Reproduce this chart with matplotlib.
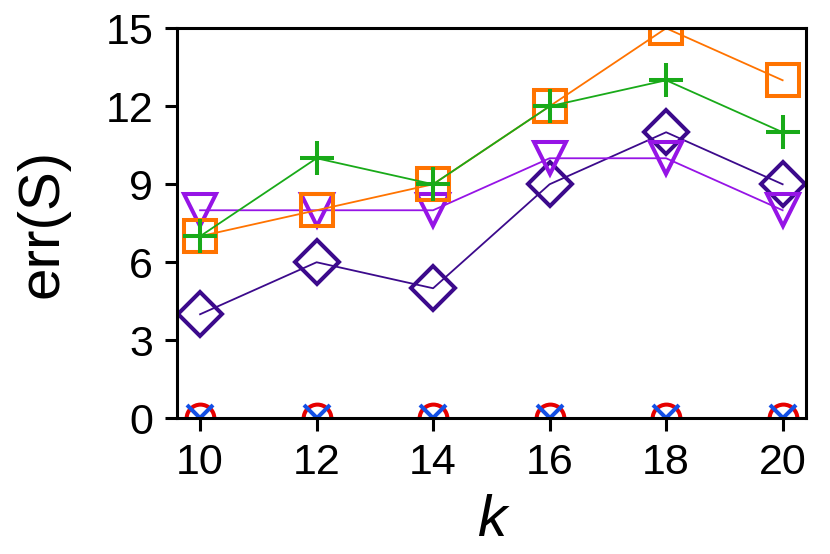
import matplotlib
matplotlib.use("Agg")
import matplotlib.pyplot as plt

plt.rcParams['font.family'] = ['Liberation Sans', 'DejaVu Sans']

k = [10, 12, 14, 16, 18, 20]
err_zero_a = [0, 0, 0, 0, 0, 0]
err_zero_b = [0, 0, 0, 0, 0, 0]
err_diamond = [4, 6, 5, 9, 11, 9]
err_tri = [8, 8, 8, 10, 10, 8]
err_square = [7, 8, 9, 12, 15, 13]
err_plus = [7, 10, 9, 12, 13, 11]

fig = plt.figure(figsize=(8.3, 5.54), dpi=100)
ax = fig.add_axes([0.213, 0.245, 0.758, 0.704])

mew = 2.9
lw = 1.3
ax.plot(k, err_zero_a, color='#e60000', lw=lw, marker='o', ms=20, mfc='none', mew=mew)
ax.plot(k, err_zero_b, color='#1450e6', lw=lw, marker='x', ms=19, mew=mew)
ax.plot(k, err_diamond, color='#3c0a8c', lw=lw, marker='D', ms=22, mfc='none', mew=mew)
ax.plot(k, err_tri, color='#9614e6', lw=lw, marker='v', ms=23, mfc='none', mew=mew)
ax.plot(k, err_square, color='#ff7300', lw=lw, marker='s', ms=23, mfc='none', mew=mew)
ax.plot(k, err_plus, color='#19aa19', lw=lw, marker='+', ms=24, mew=mew)

ax.set_xlim(9.6, 20.4)
ax.set_ylim(0, 15)
ax.set_xticks(k)
ax.set_yticks([0, 3, 6, 9, 12, 15])
ax.tick_params(labelsize=31, width=2.2, length=9, direction='out')
ax.tick_params(axis='x', pad=9)
ax.tick_params(axis='y', pad=8)
for s in ax.spines.values():
    s.set_linewidth(2.2)

ax.set_xlabel('k', fontsize=42, fontstyle='italic', labelpad=8)
ax.set_ylabel('err(S)', fontsize=42, labelpad=26)

fig.savefig('out.png', dpi=100)
